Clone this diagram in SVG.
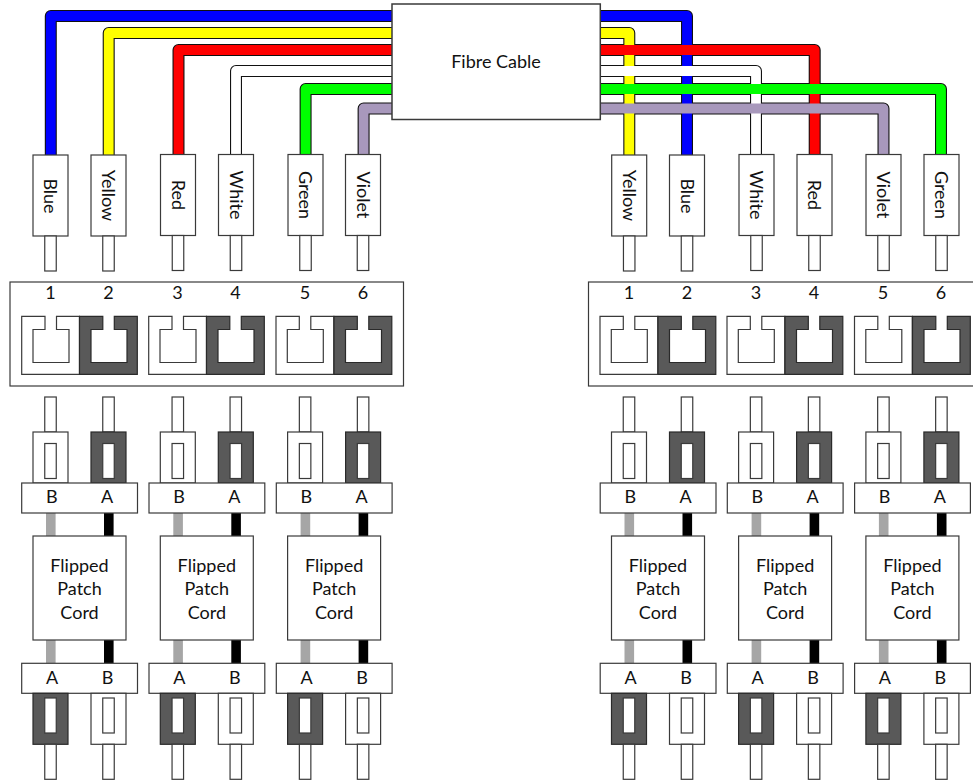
<svg xmlns="http://www.w3.org/2000/svg" xmlns:xlink="http://www.w3.org/1999/xlink" width="973" height="780" viewBox="0 0 973 780">
<style>
.b{fill:#fff;stroke:#3a3a3a;stroke-width:1.2}
.d{fill:#595959;stroke:#2a2a2a;stroke-width:1.2}
.o{fill:none;stroke:#111;stroke-width:12;stroke-linejoin:round}
.f{fill:none;stroke-width:9.8;stroke-linejoin:round}
text{font-family:Lato,"Liberation Sans",sans-serif;font-size:18px;fill:#111;text-anchor:middle}
</style>
<defs>
<path id="pw" class="b" d="M0 0H23.3V13.2H11.3V46.2H47.3V13.2H34.8V0H57.8V58H0Z"/>
<path id="pd" class="d" d="M0 0H23.3V13.2H11.5V46.2H47.5V13.2H34.8V0H57.8V58H0Z"/>
<g id="unit">
<rect class="b" x="44.75" y="397" width="11.5" height="35"/>
<rect class="b" x="33" y="432" width="35" height="51"/>
<rect class="b" x="44.75" y="443.5" width="11.5" height="35"/>
<rect class="b" x="102.75" y="397" width="11.5" height="35"/>
<rect class="d" x="91" y="432" width="35" height="51"/>
<rect class="b" x="102.75" y="443.5" width="11.5" height="35"/>
<rect x="46" y="513" width="9.6" height="150" fill="#a6a6a6"/>
<rect x="104" y="513" width="9.6" height="150" fill="#000"/>
<rect class="b" x="21.7" y="483" width="115.8" height="30"/>
<rect class="b" x="33" y="536" width="93" height="104"/>
<rect class="b" x="21.7" y="663.3" width="115.8" height="30"/>
<rect class="d" x="33" y="693.3" width="35" height="51"/>
<rect class="b" x="44.75" y="698" width="11.5" height="35"/>
<rect class="b" x="44.75" y="744.3" width="11.5" height="35"/>
<rect class="b" x="91" y="693.3" width="35" height="51"/>
<rect class="b" x="102.75" y="698" width="11.5" height="35"/>
<rect class="b" x="102.75" y="744.3" width="11.5" height="35"/>
</g>
</defs>
<rect width="973" height="780" fill="#fff"/>
<g id="connectors">
<path class="o" d="M50.8 156V16H687V156"/>
<path class="o" d="M108.7 156V33H629.3V156"/>
<path class="o" d="M178.5 156V50H814.7V156"/>
<path class="o" d="M236 156V71H756V156"/>
<path class="o" d="M305.6 156V89H941V156"/>
<path class="o" d="M363.6 156V108.5H883.5V156"/>
<path class="f" stroke="#0000ff" d="M50.8 156V16H687V156"/>
<path class="f" stroke="#ffff00" d="M108.7 156V33H629.3V156"/>
<path class="f" stroke="#ff0000" d="M178.5 156V50H814.7V156"/>
<path class="f" stroke="#ffffff" d="M236 156V71H756V156"/>
<path class="f" stroke="#00ff00" d="M305.6 156V89H941V156"/>
<path class="f" stroke="#a898bc" d="M363.6 156V108.5H883.5V156"/>
</g>
<g id="fibre-cable"><rect class="b" x="392" y="4" width="208.3" height="115.5" style="stroke-width:1.5"/><text x="496" y="67.5">Fibre Cable</text></g>
<g id="conn-left">
<g id="l-blue"><rect class="b" x="33" y="155" width="35" height="81"/><rect class="b" x="44.75" y="236" width="11.5" height="35"/><text transform="translate(44 196) rotate(90)">Blue</text></g>
<g id="l-yellow"><rect class="b" x="91" y="155" width="35" height="81"/><rect class="b" x="102.75" y="236" width="11.5" height="35"/><text transform="translate(102 195.5) rotate(90)">Yellow</text></g>
<g id="l-red"><rect class="b" x="160.5" y="154.5" width="35" height="81"/><rect class="b" x="172.25" y="235.5" width="11.5" height="35"/><text transform="translate(171.5 195) rotate(90)">Red</text></g>
<g id="l-white"><rect class="b" x="218.5" y="154.5" width="35" height="81"/><rect class="b" x="230.25" y="235.5" width="11.5" height="35"/><text transform="translate(229.5 195) rotate(90)">White</text></g>
<g id="l-green"><rect class="b" x="288" y="154.5" width="35" height="81"/><rect class="b" x="299.75" y="235.5" width="11.5" height="35"/><text transform="translate(298.5 195) rotate(90)">Green</text></g>
<g id="l-violet"><rect class="b" x="345.5" y="154.5" width="35" height="81"/><rect class="b" x="357.25" y="235.5" width="11.5" height="35"/><text transform="translate(356.5 195) rotate(90)">Violet</text></g>
</g>
<g id="conn-right">
<g id="r-yellow"><rect class="b" x="611.7" y="155" width="35" height="81"/><rect class="b" x="623.45" y="236" width="11.5" height="35"/><text transform="translate(622.5 195.5) rotate(90)">Yellow</text></g>
<g id="r-blue"><rect class="b" x="669.5" y="155" width="35" height="81"/><rect class="b" x="681.25" y="236" width="11.5" height="35"/><text transform="translate(680.5 196) rotate(90)">Blue</text></g>
<g id="r-white"><rect class="b" x="739" y="154.5" width="35" height="81"/><rect class="b" x="750.75" y="235.5" width="11.5" height="35"/><text transform="translate(749.5 195) rotate(90)">White</text></g>
<g id="r-red"><rect class="b" x="797" y="154.5" width="35" height="81"/><rect class="b" x="808.75" y="235.5" width="11.5" height="35"/><text transform="translate(807.5 195) rotate(90)">Red</text></g>
<g id="r-violet"><rect class="b" x="866" y="154.5" width="35" height="81"/><rect class="b" x="877.75" y="235.5" width="11.5" height="35"/><text transform="translate(876.5 195) rotate(90)">Violet</text></g>
<g id="r-green"><rect class="b" x="924" y="154.5" width="35" height="81"/><rect class="b" x="935.75" y="235.5" width="11.5" height="35"/><text transform="translate(934.5 195) rotate(90)">Green</text></g>
</g>
<g id="panel-left">
<rect class="b" x="10" y="282" width="393.5" height="104"/>
<use href="#pw" x="21.7" y="316.3"/><use href="#pd" x="79.5" y="316.3"/>
<use href="#pw" x="148.7" y="316.3"/><use href="#pd" x="206.5" y="316.3"/>
<use href="#pw" x="276" y="316.3"/><use href="#pd" x="334" y="316.3"/>
<text x="50.5" y="299">1</text><text x="108.5" y="299">2</text><text x="177.5" y="299">3</text><text x="235.5" y="299">4</text><text x="305" y="299">5</text><text x="363" y="299">6</text>
</g>
<g id="panel-right">
<rect class="b" x="588.5" y="282" width="400" height="104"/>
<use href="#pw" x="600" y="316.3"/><use href="#pd" x="658" y="316.3"/>
<use href="#pw" x="727" y="316.3"/><use href="#pd" x="785" y="316.3"/>
<use href="#pw" x="854.5" y="316.3"/><use href="#pd" x="912.5" y="316.3"/>
<text x="629" y="299">1</text><text x="687" y="299">2</text><text x="756" y="299">3</text><text x="814" y="299">4</text><text x="883" y="299">5</text><text x="941" y="299">6</text>
</g>
<g id="cord-1"><use href="#unit"/><text x="51.7" y="503">B</text><text x="107" y="503">A</text><text x="79.5" y="572">Flipped</text><text x="79.5" y="595">Patch</text><text x="79.5" y="618.5">Cord</text><text x="52" y="684">A</text><text x="107.5" y="684">B</text></g>
<g id="cord-2" transform="translate(127.3)"><use href="#unit"/><text x="51.7" y="503">B</text><text x="107" y="503">A</text><text x="79.5" y="572">Flipped</text><text x="79.5" y="595">Patch</text><text x="79.5" y="618.5">Cord</text><text x="52" y="684">A</text><text x="107.5" y="684">B</text></g>
<g id="cord-3" transform="translate(254.6)"><use href="#unit"/><text x="51.7" y="503">B</text><text x="107" y="503">A</text><text x="79.5" y="572">Flipped</text><text x="79.5" y="595">Patch</text><text x="79.5" y="618.5">Cord</text><text x="52" y="684">A</text><text x="107.5" y="684">B</text></g>
<g id="cord-4" transform="translate(578.5)"><use href="#unit"/><text x="51.7" y="503">B</text><text x="107" y="503">A</text><text x="79.5" y="572">Flipped</text><text x="79.5" y="595">Patch</text><text x="79.5" y="618.5">Cord</text><text x="52" y="684">A</text><text x="107.5" y="684">B</text></g>
<g id="cord-5" transform="translate(705.6)"><use href="#unit"/><text x="51.7" y="503">B</text><text x="107" y="503">A</text><text x="79.5" y="572">Flipped</text><text x="79.5" y="595">Patch</text><text x="79.5" y="618.5">Cord</text><text x="52" y="684">A</text><text x="107.5" y="684">B</text></g>
<g id="cord-6" transform="translate(832.9)"><use href="#unit"/><text x="51.7" y="503">B</text><text x="107" y="503">A</text><text x="79.5" y="572">Flipped</text><text x="79.5" y="595">Patch</text><text x="79.5" y="618.5">Cord</text><text x="52" y="684">A</text><text x="107.5" y="684">B</text></g>
</svg>
